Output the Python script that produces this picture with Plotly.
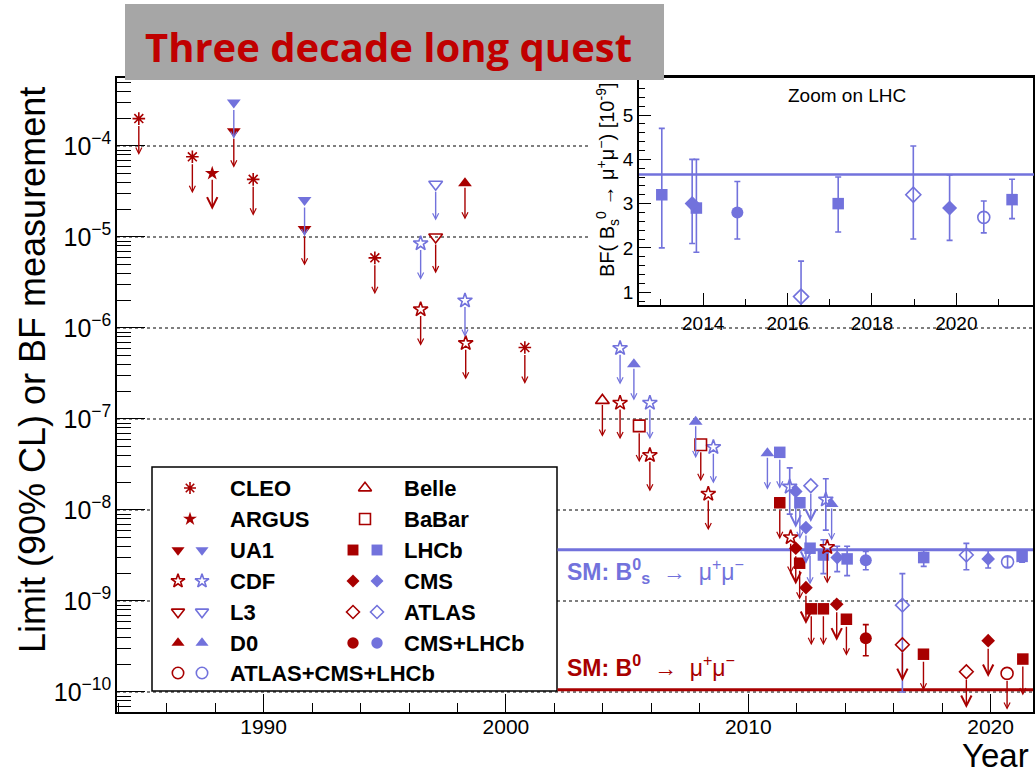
import math
import plotly.graph_objects as go

# ======================= DATA =======================
# ---- B0 -> mu+ mu- upper limits (90% CL), main plot ----
cleo_b0_year = [1984.85, 1987.06, 1989.57, 1994.59, 2000.78]
cleo_b0_lim = [2.0e-4, 7.6e-5, 4.3e-5, 5.9e-6, 6.1e-7]
argus_b0_year = [1987.88]
argus_b0_lim = [5.0e-5]
ua1_b0_year = [1988.77, 1991.69]
ua1_b0_lim = [1.45e-4, 1.22e-5]
cdf_b0_year = [1996.48, 1998.34, 2004.71, 2005.94, 2008.35, 2011.75, 2013.26]
cdf_b0_lim = [1.6e-6, 6.8e-7, 1.5e-7, 4.0e-8, 1.5e-8, 5.0e-9, 3.9e-9]
l3_b0_year = [1997.10]
l3_b0_lim = [1.0e-5]
d0_b0_year = [1998.31]
d0_b0_lim = [3.9e-5]
belle_b0_year = [2003.98]
belle_b0_lim = [1.6e-7]
babar_b0_year = [2005.50, 2008.04]
babar_b0_lim = [8.4e-8, 5.2e-8]
lhcb_b0_year = [2011.30, 2012.12, 2012.60, 2013.10, 2014.05, 2017.23, 2021.33]
lhcb_b0_lim = [1.2e-8, 2.6e-9, 8.2e-10, 8.2e-10, 6.3e-10, 2.6e-10, 2.3e-10]
cms_b0_year = [2011.96, 2012.38, 2013.65, 2019.90]
cms_b0_lim = [3.8e-9, 1.4e-9, 9.2e-10, 3.66e-10]
atlas_b0_year = [2016.36, 2019.00]
atlas_b0_lim = [3.3e-10, 1.67e-10]
comb_b0_year = [2020.68]
comb_b0_lim = [1.6e-10]
# ---- B0 measurement ----
cmslhcb_b0_year = [2014.85]
cmslhcb_b0_val = [3.9e-10]
cmslhcb_b0_up = [1.6e-10]
cmslhcb_b0_dn = [1.4e-10]

# ---- Bs -> mu+ mu- upper limits, main plot ----
ua1_bs_year = [1988.77, 1991.69]
ua1_bs_lim = [3.0e-4, 2.55e-5]
cdf_bs_year = [1996.48, 1998.31, 2004.71, 2005.94, 2008.56]
cdf_bs_lim = [8.5e-6, 2.0e-6, 6.0e-7, 1.5e-7, 4.9e-8]
l3_bs_year = [1997.10]
l3_bs_lim = [3.8e-5]
d0_bs_year = [2005.28, 2007.83, 2010.79, 2013.44]
d0_bs_lim = [4.0e-7, 9.3e-8, 4.2e-8, 1.16e-8]
lhcb_bs_year = [2011.30, 2012.13, 2012.55]
lhcb_bs_lim = [4.3e-8, 1.2e-8, 3.8e-9]
cms_bs_year = [2011.96, 2012.38]
cms_bs_lim = [1.6e-8, 6.4e-9]
atlas_bs_year = [2012.58]
atlas_bs_lim = [1.85e-8]
# ---- Bs measurements, main plot ----
cdf_bsm_year = [2011.71, 2013.20]
cdf_bsm_val = [1.8e-8, 1.3e-8]
cdf_bsm_up = [1.1e-8, 0.9e-8]
cdf_bsm_dn = [0.9e-8, 0.7e-8]
lhcb_bsm_year = [2013.10, 2014.08, 2017.24, 2021.30]
lhcb_bsm_val = [3.2e-9, 2.9e-9, 3.0e-9, 3.09e-9]
lhcb_bsm_up = [1.5e-9, 1.1e-9, 0.6e-9, 0.46e-9]
lhcb_bsm_dn = [1.2e-9, 1.0e-9, 0.6e-9, 0.43e-9]
cms_bsm_year = [2013.67, 2019.90]
cms_bsm_val = [3.0e-9, 2.9e-9]
cms_bsm_up = [1.0e-9, 0.7e-9]
cms_bsm_dn = [0.9e-9, 0.6e-9]
atlas_bsm_year = [2016.36, 2019.00]
atlas_bsm_val = [0.9e-9, 3.2e-9]
atlas_bsm_up = [1.1e-9, 1.1e-9]
atlas_bsm_dn = [0.8e-9, 1.0e-9]
cmslhcb_bsm_year = [2014.85]
cmslhcb_bsm_val = [2.8e-9]
cmslhcb_bsm_up = [0.7e-9]
cmslhcb_bsm_dn = [0.6e-9]
comb_bsm_year = [2020.70]
comb_bsm_val = [2.69e-9]
comb_bsm_up = [0.37e-9]
comb_bsm_dn = [0.35e-9]

# ---- Standard Model predictions ----
SM_BS = 3.66e-9
SM_B0 = 1.06e-10

# ---- Inset "Zoom on LHC" (BF in units of 1e-9) ----
in_lhcb_year = [2013.02, 2013.84, 2017.20, 2021.32]
in_lhcb_val = [3.2, 2.9, 3.0, 3.09]
in_lhcb_up = [1.5, 1.1, 0.6, 0.46]
in_lhcb_dn = [1.2, 1.0, 0.64, 0.43]
in_cms_year = [2013.74, 2019.84]
in_cms_val = [3.0, 2.9]
in_cms_up = [1.0, 0.75]
in_cms_dn = [0.9, 0.73]
in_cmslhcb_year = [2014.81]
in_cmslhcb_val = [2.8]
in_cmslhcb_up = [0.7]
in_cmslhcb_dn = [0.6]
in_atlas_year = [2016.32, 2018.98]
in_atlas_val = [0.9, 3.2]
in_atlas_up = [0.8, 1.1]
in_atlas_dn = [0.8, 1.0]
in_comb_year = [2020.65]
in_comb_val = [2.69]
in_comb_up = [0.37]
in_comb_dn = [0.35]
IN_SM_BS = 3.66

# ======================= STYLE / LAYOUT =======================
W, H = 1035, 776
RED = "#A80000"
BLUE = "#7272DC"
FONT = "Liberation Sans"

def px(x):
    return x / W

def py(y):
    return 1 - y / H

# main frame in pixels
MX0, MX1, MY_TOP, MY_BOT = 117, 1033, 78, 712
XR = [1983.95, 2021.75]
YR = [-10.22, -3.253]
# inset frame in pixels
IX0, IX1, IY_TOP, IY_BOT = 639, 1034, 77, 305
IXR = [2012.48, 2021.84]
IYR = [0.71, 5.86]
# legend box & inset pad (pixels)
LEG_X0, LEG_X1, LEG_Y0, LEG_Y1 = 152, 557, 467, 691
PAD_X0, PAD_Y1 = 590, 325
SM_LINE_START = 2002.13
ARROW_DEC = 0.40

STY = {
    "CLEO": ("asterisk-open", 10.5, True, 6),
    "ARGUS": ("star", 11, False, 5),
    "UA1": ("triangle-down", 12, False, 6),
    "CDF": ("star-open", 11, True, 5),
    "L3": ("triangle-down-open", 12, True, 6),
    "D0": ("triangle-up", 12, False, 3),
    "Belle": ("triangle-up-open", 12, True, 3),
    "BaBar": ("square-open", 11.5, True, 6),
    "LHCb": ("square", 11.5, False, 6),
    "CMS": ("diamond", 10.5, False, 6.5),
    "ATLAS": ("diamond-open", 10.5, True, 6.5),
    "CMS+LHCb": ("circle", 12, False, 6),
    "ATLAS+CMS+LHCb": ("circle-open", 12, True, 6),
}
BIG_HEAD = {"ARGUS", "CMS", "ATLAS"}

fig = go.Figure()


def add_marks(exp, color, xs, ys, up=None, dn=None, xa="x", ya="y", scale=1.0):
    sym, size, is_open, _ = STY[exp]
    marker = dict(symbol=sym, size=size * scale, color=color,
                  line=dict(color=color, width=1.6 if is_open else 0))
    tr = dict(x=xs, y=ys, mode="markers", marker=marker, xaxis=xa, yaxis=ya,
              showlegend=False, hoverinfo="skip", cliponaxis=False)
    if up is not None:
        tr["error_y"] = dict(type="data", symmetric=False, array=up, arrayminus=dn,
                             color=color, thickness=1.6, width=3)
    fig.add_trace(go.Scatter(**tr))


def add_limits(exp, color, xs, ys):
    add_marks(exp, color, xs, ys)
    so = STY[exp][3]
    big = exp in BIG_HEAD
    for x, v in zip(xs, ys):
        lv = math.log10(v)
        fig.add_annotation(x=x, y=lv - ARROW_DEC, ax=x, ay=lv,
                           xref="x", yref="y", axref="x", ayref="y",
                           text="", showarrow=True, arrowhead=5,
                           arrowsize=1.45 if big else 0.85, arrowwidth=1.4,
                           arrowcolor=color, startstandoff=so)


# --- SM lines (main) ---
fig.add_trace(go.Scatter(x=[SM_LINE_START, XR[1]], y=[SM_BS, SM_BS], mode="lines",
                         line=dict(color=BLUE, width=3), showlegend=False, hoverinfo="skip"))
fig.add_trace(go.Scatter(x=[SM_LINE_START, XR[1]], y=[SM_B0, SM_B0], mode="lines",
                         line=dict(color=RED, width=3), showlegend=False, hoverinfo="skip"))

# --- Bs (blue) ---
add_limits("UA1", BLUE, ua1_bs_year, ua1_bs_lim)
add_limits("CDF", BLUE, cdf_bs_year, cdf_bs_lim)
add_limits("L3", BLUE, l3_bs_year, l3_bs_lim)
add_limits("D0", BLUE, d0_bs_year, d0_bs_lim)
add_limits("LHCb", BLUE, lhcb_bs_year, lhcb_bs_lim)
add_limits("CMS", BLUE, cms_bs_year, cms_bs_lim)
add_limits("ATLAS", BLUE, atlas_bs_year, atlas_bs_lim)
add_marks("CDF", BLUE, cdf_bsm_year, cdf_bsm_val, cdf_bsm_up, cdf_bsm_dn)
add_marks("LHCb", BLUE, lhcb_bsm_year, lhcb_bsm_val, lhcb_bsm_up, lhcb_bsm_dn)
add_marks("CMS", BLUE, cms_bsm_year, cms_bsm_val, cms_bsm_up, cms_bsm_dn)
add_marks("ATLAS", BLUE, atlas_bsm_year, atlas_bsm_val, atlas_bsm_up, atlas_bsm_dn)
add_marks("CMS+LHCb", BLUE, cmslhcb_bsm_year, cmslhcb_bsm_val, cmslhcb_bsm_up, cmslhcb_bsm_dn)
add_marks("ATLAS+CMS+LHCb", BLUE, comb_bsm_year, comb_bsm_val, comb_bsm_up, comb_bsm_dn)

# --- B0 (red) ---
add_limits("CLEO", RED, cleo_b0_year, cleo_b0_lim)
add_limits("ARGUS", RED, argus_b0_year, argus_b0_lim)
add_limits("UA1", RED, ua1_b0_year, ua1_b0_lim)
add_limits("CDF", RED, cdf_b0_year, cdf_b0_lim)
add_limits("L3", RED, l3_b0_year, l3_b0_lim)
add_limits("D0", RED, d0_b0_year, d0_b0_lim)
add_limits("Belle", RED, belle_b0_year, belle_b0_lim)
add_limits("BaBar", RED, babar_b0_year, babar_b0_lim)
add_limits("LHCb", RED, lhcb_b0_year, lhcb_b0_lim)
add_limits("CMS", RED, cms_b0_year, cms_b0_lim)
add_limits("ATLAS", RED, atlas_b0_year, atlas_b0_lim)
add_limits("ATLAS+CMS+LHCb", RED, comb_b0_year, comb_b0_lim)
add_marks("CMS+LHCb", RED, cmslhcb_b0_year, cmslhcb_b0_val, cmslhcb_b0_up, cmslhcb_b0_dn)

# --- Inset ---
fig.add_trace(go.Scatter(x=IXR, y=[IN_SM_BS, IN_SM_BS], mode="lines", xaxis="x2", yaxis="y2",
                         line=dict(color=BLUE, width=2.5), showlegend=False, hoverinfo="skip"))
add_marks("LHCb", BLUE, in_lhcb_year, in_lhcb_val, in_lhcb_up, in_lhcb_dn, "x2", "y2")
add_marks("CMS", BLUE, in_cms_year, in_cms_val, in_cms_up, in_cms_dn, "x2", "y2", scale=1.1)
add_marks("CMS+LHCb", BLUE, in_cmslhcb_year, in_cmslhcb_val, in_cmslhcb_up, in_cmslhcb_dn, "x2", "y2")
add_marks("ATLAS", BLUE, in_atlas_year, in_atlas_val, in_atlas_up, in_atlas_dn, "x2", "y2", scale=1.1)
add_marks("ATLAS+CMS+LHCb", BLUE, in_comb_year, in_comb_val, in_comb_up, in_comb_dn, "x2", "y2")

# --- Custom legend (overlay axis in paper units) ---
LEG_ROWS = [488, 519, 550, 581, 612, 643, 673]
col1 = [("CLEO", False), ("ARGUS", False), ("UA1", True), ("CDF", True),
        ("L3", True), ("D0", True), ("ATLAS+CMS+LHCb", True)]
col2 = [("Belle", False), ("BaBar", False), ("LHCb", True), ("CMS", True),
        ("ATLAS", True), ("CMS+LHCb", True)]
for entries, xr, xb, xs, xt in [(col1, 178, 202, 190, 228), (col2, 353, 377, 365, 402)]:
    for (name, pair), yrow in zip(entries, LEG_ROWS):
        if pair:
            add_marks(name, RED, [px(xr)], [py(yrow)], xa="x3", ya="y3", scale=0.95)
            add_marks(name, BLUE, [px(xb)], [py(yrow)], xa="x3", ya="y3", scale=0.95)
        else:
            add_marks(name, RED, [px(xs)], [py(yrow)], xa="x3", ya="y3", scale=0.95)
        fig.add_annotation(x=px(xt), y=py(yrow), xref="paper", yref="paper",
                           text="<b>%s</b>" % name, showarrow=False, xanchor="left",
                           yanchor="middle", font=dict(family=FONT, size=22, color="black"))

# --- gridlines (dotted, drawn only where visible) ---
shapes = []
def y_of_dec(d):
    return MY_TOP + (YR[1] - d) / (YR[1] - YR[0]) * (MY_BOT - MY_TOP)
def xf(p):
    return (p - MX0) / (MX1 - MX0)
for d in range(-10, -3):
    ypx = y_of_dec(d)
    if ypx < PAD_Y1:
        segs = [(0, xf(PAD_X0))]
    elif LEG_Y0 < ypx < LEG_Y1:
        segs = [(0, xf(LEG_X0)), (xf(LEG_X1), 1)]
    else:
        segs = [(0, 1)]
    yfr = (d - YR[0]) / (YR[1] - YR[0])
    for a, b in segs:
        shapes.append(dict(type="line", xref="x domain", yref="y domain", x0=a, x1=b,
                           y0=yfr, y1=yfr, line=dict(color="black", width=1.2, dash="dot"),
                           layer="below"))
# legend box
shapes.append(dict(type="rect", xref="paper", yref="paper", x0=px(LEG_X0), x1=px(LEG_X1),
                   y0=py(LEG_Y1), y1=py(LEG_Y0), line=dict(color="black", width=1.5),
                   fillcolor="white", layer="below"))
# title box
shapes.append(dict(type="rect", xref="paper", yref="paper", x0=px(125), x1=px(664),
                   y0=py(80), y1=py(4), line=dict(width=0), fillcolor="#A6A6A6", layer="above"))

annotations = [
    dict(x=px(388), y=py(46), xref="paper", yref="paper", showarrow=False,
         text="<b>Three decade long quest</b>", xanchor="center", yanchor="middle",
         font=dict(family="Open Sans", size=40, color="#C00000")),
    dict(x=px(32), y=py(370), xref="paper", yref="paper", showarrow=False,
         text="Limit (90% CL) or BF measurement", textangle=-90,
         xanchor="center", yanchor="middle", font=dict(family=FONT, size=36, color="black")),
    dict(x=px(1031), y=py(776), xref="paper", yref="paper", showarrow=False,
         text="Year", xanchor="right", yanchor="bottom",
         font=dict(family=FONT, size=33, color="black")),
    dict(x=px(565), y=py(571), xref="paper", yref="paper", showarrow=False,
         text="<b>SM: B<sup>0</sup><sub>s</sub></b>  →  μ<sup>+</sup>μ<sup>−</sup>",
         xanchor="left", yanchor="middle", font=dict(family=FONT, size=23, color=BLUE)),
    dict(x=px(565), y=py(666), xref="paper", yref="paper", showarrow=False,
         text="<b>SM: B<sup>0</sup></b>  →  μ<sup>+</sup>μ<sup>−</sup>",
         xanchor="left", yanchor="middle", font=dict(family=FONT, size=23, color=RED)),
    dict(x=px(847), y=py(95), xref="paper", yref="paper", showarrow=False,
         text="Zoom on LHC", xanchor="center", yanchor="middle",
         font=dict(family=FONT, size=19, color="black")),
    dict(x=px(607), y=py(180), xref="paper", yref="paper", showarrow=False,
         text="BF( B<sub>s</sub><sup>0</sup> → μ<sup>+</sup>μ<sup>−</sup>) [10<sup>-9</sup>]",
         textangle=-90, xanchor="center", yanchor="middle",
         font=dict(family=FONT, size=20, color="black")),
]
for a in annotations:
    fig.add_annotation(**a)

axis_common = dict(showline=True, linecolor="black", mirror=True, showgrid=False,
                   zeroline=False, ticks="inside", tickcolor="black", fixedrange=True)

fig.update_layout(
    width=W, height=H, margin=dict(l=0, r=0, t=0, b=0),
    paper_bgcolor="white", plot_bgcolor="rgba(0,0,0,0)",
    font=dict(family=FONT, color="black"),
    showlegend=False,
    shapes=shapes,
    xaxis=dict(domain=[px(MX0), px(MX1)], range=XR, anchor="y",
               tick0=1990, dtick=10, ticklen=18, tickwidth=1.3, linewidth=1.5,
               tickfont=dict(size=21), ticklabelstandoff=-5,
               minor=dict(ticks="inside", tick0=1990, dtick=2, ticklen=9,
                          tickcolor="black", showgrid=False),
               **axis_common),
    yaxis=dict(type="log", domain=[py(MY_BOT), py(MY_TOP)], range=YR, anchor="x",
               dtick=1, exponentformat="power", ticklen=28, tickwidth=1.3, linewidth=1.5,
               tickfont=dict(size=20),
               minor=dict(ticks="inside", dtick="D1", ticklen=14, tickcolor="black",
                          showgrid=False),
               **axis_common),
    xaxis2=dict(domain=[px(IX0), px(IX1)], range=IXR, anchor="y2",
                tick0=2014, dtick=2, ticklen=12, tickwidth=1.2, linewidth=1.8,
                tickfont=dict(size=19),
                minor=dict(ticks="inside", dtick=1, ticklen=6, tickcolor="black"),
                **axis_common),
    yaxis2=dict(domain=[py(IY_BOT), py(IY_TOP)], range=IYR, anchor="x2",
                tick0=0, dtick=1, ticklen=12, tickwidth=1.2, linewidth=1.8,
                tickfont=dict(size=19),
                minor=dict(ticks="inside", dtick=0.2, ticklen=6, tickcolor="black"),
                **axis_common),
    xaxis3=dict(domain=[0, 1], range=[0, 1], visible=False, anchor="y3", fixedrange=True),
    yaxis3=dict(domain=[0, 1], range=[0, 1], visible=False, anchor="x3", fixedrange=True),
)

fig.write_html("out.html", config={"displayModeBar": False, "responsive": False})
